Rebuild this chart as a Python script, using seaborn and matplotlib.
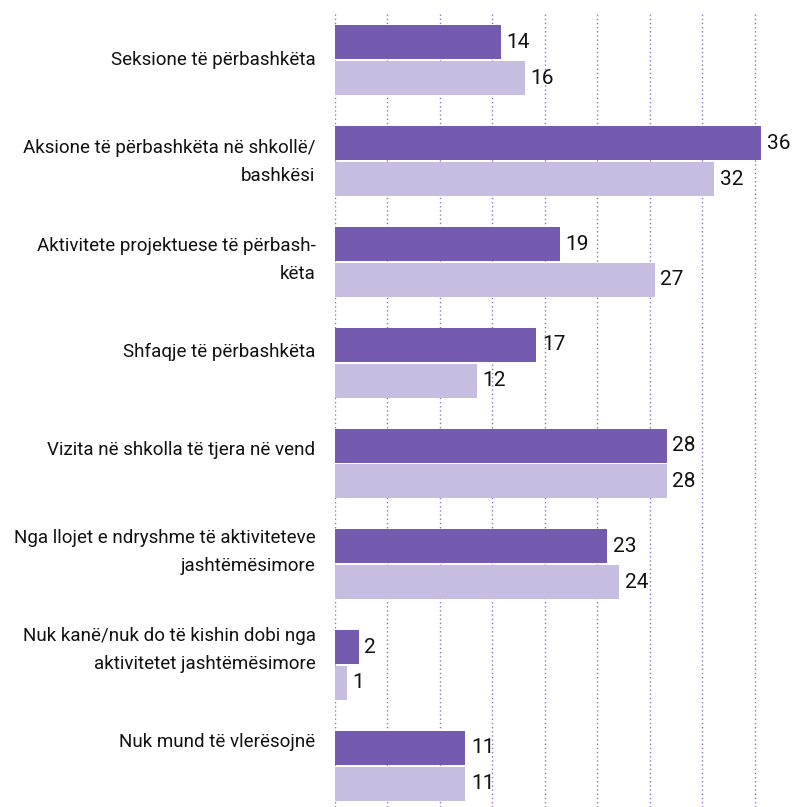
import seaborn as sns, matplotlib.pyplot as plt, numpy as np, pandas as pd

CATEGORIES = [
    "Seksione të përbashkëta",
    "Aksione të përbashkëta në shkollë/\nbashkësi",
    "Aktivitete projektuese të përbash-\nkëta",
    "Shfaqje të përbashkëta",
    "Vizita në shkolla të tjera në vend",
    "Nga llojet e ndryshme të aktiviteteve\njashtëmësimore",
    "Nuk kanë/nuk do të kishin dobi nga\naktivitetet jashtëmësimore",
    "Nuk mund të vlerësojnë",
]
SERIES = ["Seria 1", "Seria 2"]
VALUES_1 = [14, 36, 19, 17, 28, 23, 2, 11]
VALUES_2 = [16, 32, 27, 12, 28, 24, 1, 11]
COLORS = ["#755BAF", "#C7BDE0"]

df = pd.DataFrame({
    "kategoria": CATEGORIES * 2,
    "seria": [SERIES[0]] * len(CATEGORIES) + [SERIES[1]] * len(CATEGORIES),
    "vlera": VALUES_1 + VALUES_2,
})

sns.set_style("white")
plt.rcParams["font.family"] = ["Roboto", "DejaVu Sans"]

fig = plt.figure(figsize=(7.97, 8.07), dpi=100)
ax = fig.add_axes([335 / 797, 0, 462 / 797, 795 / 807])

sns.barplot(data=df, y="kategoria", x="vlera", hue="seria", order=CATEGORIES,
            palette=COLORS, orient="h", width=0.71, gap=0.05, legend=False,
            saturation=1, linewidth=0, ax=ax, zorder=2)

for cont in ax.containers:
    ax.bar_label(cont, fmt="%d", padding=4, fontsize=15, color="#111111")

ax.set_xlim(0, 39.0)
ax.set_ylim(7.41, -0.48)
ax.set_xticks(np.linspace(0, 35.44, 9))
ax.set_xticklabels([])
# in the original the labels sit on a slightly tighter pitch than the bar groups
ax.set_yticks(np.arange(len(CATEGORIES)) * 0.968 - 0.027, labels=CATEGORIES)
ax.grid(axis="x", color="#8c74c8", linestyle=(0, (1, 2)), linewidth=1, zorder=0)
ax.grid(axis="y", visible=False)
ax.tick_params(axis="both", length=0)
ax.tick_params(axis="y", pad=14, labelsize=13.5, labelcolor="#111111")
for t in ax.get_yticklabels():
    t.set_linespacing(1.7)
ax.set_xlabel("")
ax.set_ylabel("")
for s in ax.spines.values():
    s.set_visible(False)

fig.savefig("out.png", dpi=100)
